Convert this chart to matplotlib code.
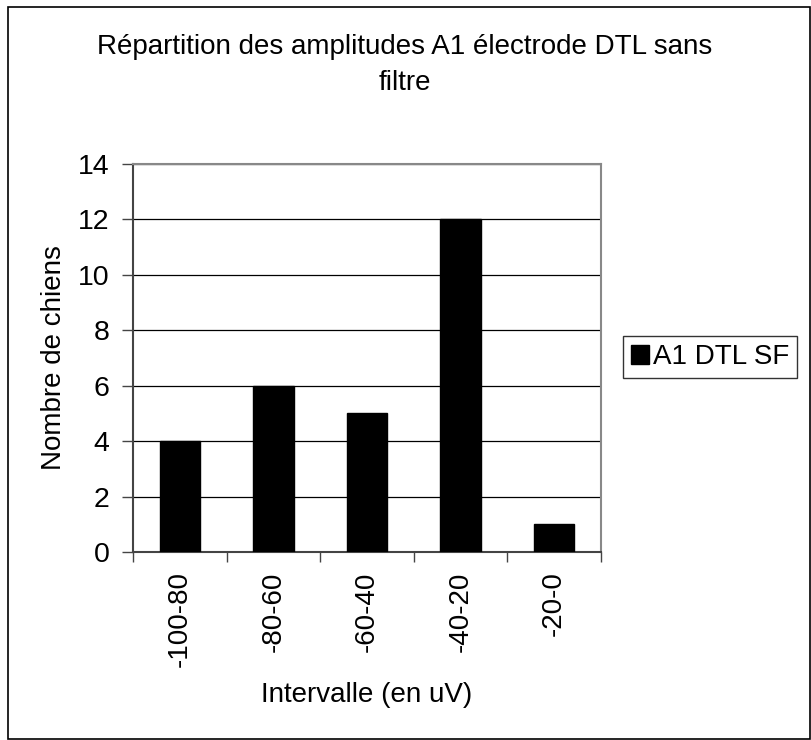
import matplotlib.pyplot as plt
from matplotlib.patches import Rectangle

plt.rcParams['font.family'] = ['Liberation Sans', 'DejaVu Sans']

categories = ['-100-80', '-80-60', '-60-40', '-40-20', '-20-0']
counts = [4, 6, 5, 12, 1]
y_ticks = [0, 2, 4, 6, 8, 10, 12, 14]

W, H = 811, 740
fig = plt.figure(figsize=(W / 100, H / 100), dpi=100)

# outer chart border
fig.patches.append(Rectangle((8 / W, 1 - 739 / H), 802 / W, 732 / H,
                             transform=fig.transFigure, fill=False,
                             edgecolor='black', linewidth=1.2))

left, right, top, bottom = 133, 601, 164, 552
pw, ph = right - left, bottom - top
ax = fig.add_axes([left / W, 1 - bottom / H, pw / W, ph / H])

x = list(range(len(categories)))
bars = ax.bar(x, counts, width=0.43, color='black', edgecolor='black',
              label='A1 DTL SF', zorder=3)

ax.set_xlim(-0.5, len(categories) - 0.5)
ax.set_ylim(0, 14)
ax.set_yticks(y_ticks)
ax.set_yticklabels([str(v) for v in y_ticks], fontsize=20.5)
ax.yaxis.grid(True, color='black', linewidth=0.9, zorder=0)

# tick marks on category boundaries, labels at centres
ax.set_xticks([i - 0.5 for i in range(len(categories) + 1)])
ax.set_xticklabels([])
ax.set_xticks(x, minor=True)
ax.set_xticklabels(categories, minor=True, rotation=90, fontsize=20)
ax.tick_params(axis='x', which='minor', length=0, pad=14)
ax.tick_params(axis='x', which='major', length=7, width=1, color='#444444', direction='out')
ax.tick_params(axis='y', length=8, width=1, color='#444444', direction='out', pad=9)

for s in ['top', 'right']:
    ax.spines[s].set_color('#888888')
    ax.spines[s].set_linewidth(1.5)
for s in ['left', 'bottom']:
    ax.spines[s].set_color('#444444')
    ax.spines[s].set_linewidth(1.5)

ax.set_ylabel('Nombre de chiens', fontsize=20)
ax.yaxis.set_label_coords((54 - left) / pw, 0.5)
ax.set_xlabel('Intervalle (en uV)', fontsize=20)
ax.xaxis.set_label_coords(0.5, (bottom - 695) / ph)
ax.xaxis.label.set_va('center')
ax.yaxis.label.set_va('center')

fig.text(405 / W, 1 - 65 / H, 'Répartition des amplitudes A1 électrode DTL sans\nfiltre',
         ha='center', va='center', fontsize=20, linespacing=1.55)

leg = fig.legend(handles=[bars], labels=['A1 DTL SF'], loc='center left',
                 bbox_to_anchor=(623 / W, 1 - 357 / H), fontsize=20,
                 frameon=True, fancybox=False, edgecolor='black',
                 handlelength=0.65, handleheight=0.65, handletextpad=0.12,
                 borderpad=0.3, borderaxespad=0)
leg.get_frame().set_linewidth(1)

fig.savefig('out.png', dpi=100)
